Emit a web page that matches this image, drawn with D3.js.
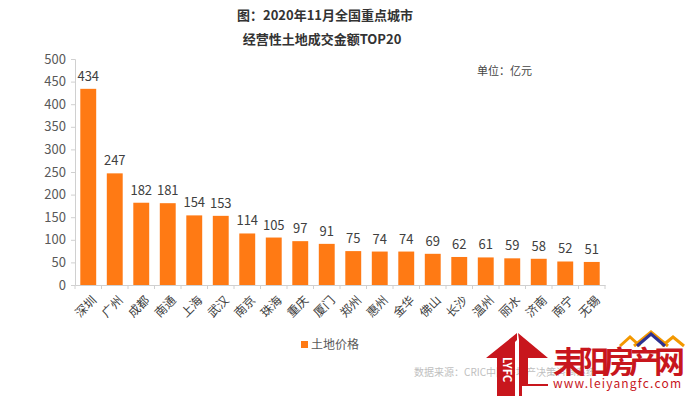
<!DOCTYPE html>
<html><head><meta charset="utf-8">
<script src="https://cdn.jsdelivr.net/npm/d3@7"></script>
<style>body{margin:0;background:#fff}svg{display:block}text{font-family:"Noto Sans CJK SC","Microsoft YaHei",sans-serif}</style>
</head><body><svg id="c" width="690" height="396"></svg>
<script>
const cities = ["深圳","广州","成都","南通","上海","武汉","南京","珠海","重庆","厦门","郑州","惠州","金华","佛山","长沙","温州","丽水","济南","南宁","无锡"];
const values = [434,247,182,181,154,153,114,105,97,91,75,74,74,69,62,61,59,58,52,51];
const yTicks = [0,50,100,150,200,250,300,350,400,450,500];
const titleLines = ["图：2020年11月全国重点城市","经营性土地成交金额TOP20"];
const seriesName = "土地价格";

const svg = d3.select("#c");
const orange = "#FF7A14";
const x = d3.scaleBand().domain(cities).range([75,605]).paddingInner(0.4).paddingOuter(0.2);
const y = d3.scaleLinear().domain([0,500]).range([285,59]);

// title
svg.selectAll("text.title").data(titleLines).join("text")
  .attr("x",(d,i)=> i===0?325:322).attr("y",(d,i)=>20+i*24)
  .attr("text-anchor","middle").attr("font-size",13).attr("font-weight","bold").attr("fill","#333")
  .text(d=>d);

svg.append("text").attr("x",477).attr("y",75).attr("font-size",11).attr("fill","#444").text("单位：亿元");

// y axis
const ya = svg.append("g").attr("transform","translate(75,0)")
  .call(d3.axisLeft(y).tickValues(yTicks).tickSize(4).tickPadding(5));
ya.select(".domain").attr("stroke","#d0d0d0");
ya.selectAll(".tick line").attr("stroke","#d0d0d0");
ya.selectAll("text").attr("font-size",13).attr("fill","#595959").attr("font-family","Liberation Sans, Arial, sans-serif");

// x axis
const xa = svg.append("g").attr("transform","translate(0,285)")
  .call(d3.axisBottom(x).tickSize(0).tickFormat(""));
xa.select(".domain").attr("stroke","#d0d0d0");
// tick separators
svg.append("g").selectAll("line").data(d3.range(cities.length+1)).join("line")
  .attr("x1",i=>75+i*x.step()*(530/(x.step()*cities.length))).attr("x2",i=>75+i*(530/cities.length))
  .attr("y1",285).attr("y2",289).attr("stroke","#d0d0d0");

// bars
svg.append("g").selectAll("rect").data(values).join("rect")
  .attr("x",(d,i)=>x(cities[i])).attr("width",x.bandwidth())
  .attr("y",d=>y(d)).attr("height",d=>285-y(d)).attr("fill",orange);

// value labels
svg.append("g").selectAll("text").data(values).join("text")
  .attr("x",(d,i)=>x(cities[i])+x.bandwidth()/2).attr("y",d=>y(d)-8)
  .attr("text-anchor","middle").attr("font-size",13).attr("fill","#404040")
  .attr("font-family","Liberation Sans, Arial, sans-serif").text(d=>d);

// category labels
svg.append("g").selectAll("text").data(cities).join("text")
  .attr("transform",d=>`translate(${x(d)+x.bandwidth()/2+6},${298}) rotate(-45)`)
  .attr("text-anchor","end").attr("font-size",12).attr("fill","#404040").attr("dy","0.35em").text(d=>d);

// legend
svg.append("rect").attr("x",301).attr("y",341).attr("width",7).attr("height",7).attr("fill",orange);
svg.append("text").attr("x",311).attr("y",349).attr("font-size",12).attr("fill","#595959").text(seriesName);

// source
svg.append("text").attr("x",414).attr("y",376).attr("font-size",10).attr("fill","#c0c0c0").text("数据来源：CRIC中国房地产决策咨询系统");

// watermark
const wm = svg.append("g");
wm.append("path").attr("d","M517,333 L486,358 L497,358 L497,396 L515,396 L515,342 L517,340 Z").attr("fill","#C8161D");
wm.append("path").attr("d","M518,333 L548,358 L528,358 L528,384 L685,384 L685,386 L522,386 L522,396 L519,396 L519,340 Z").attr("fill","#C8161D");
wm.append("text").attr("transform","translate(503,357) rotate(90)").attr("font-size",11).attr("font-weight","bold").attr("fill","#fff").attr("font-family","Liberation Sans, Arial").text("LYFC");
wm.append("text").attr("x",553).attr("y",373).attr("font-size",31).attr("font-weight","bold").attr("fill","#C8161D").attr("textLength",132).text("耒阳房产网");
wm.append("rect").attr("x",548).attr("y",376).attr("width",137).attr("height",14).attr("fill","#fff");
wm.append("text").attr("x",553).attr("y",388).attr("font-size",12).attr("fill","#C8161D").attr("font-family","Liberation Mono, monospace").attr("textLength",128).text("www.leiyangfc.com");
wm.append("path").attr("d","M620,346 L630,337 L640,346 M634,346 L651,332 L668,346 M662,346 L673,337 L684,346").attr("fill","none").attr("stroke","#F39800").attr("stroke-width",3);
wm.append("path").attr("d","M637,346 L651,334 L665,346").attr("fill","none").attr("stroke","#2E3192").attr("stroke-width",3);
</script></body></html>
